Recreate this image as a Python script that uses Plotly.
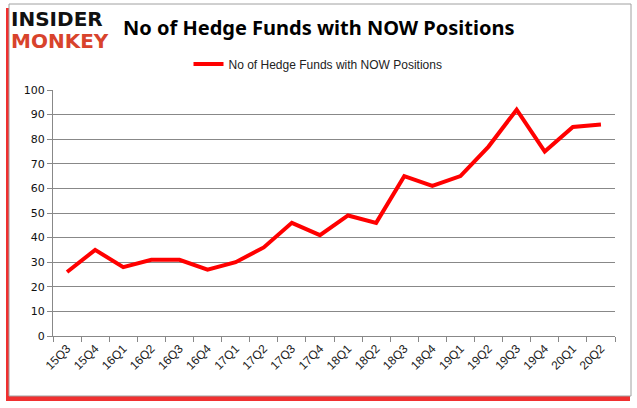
import plotly.graph_objects as go

quarters = ["15Q3", "15Q4", "16Q1", "16Q2", "16Q3", "16Q4", "17Q1", "17Q2", "17Q3", "17Q4",
            "18Q1", "18Q2", "18Q3", "18Q4", "19Q1", "19Q2", "19Q3", "19Q4", "20Q1", "20Q2"]
funds = [26, 35, 28, 31, 31, 27, 30, 36, 46, 41, 49, 46, 65, 61, 65, 77, 92, 75, 85, 86]
series_name = "No of Hedge Funds with NOW Positions"
title_text = "No of Hedge Funds with NOW Positions"

W, H = 637, 408
L, R, T, B = 53, 615, 90, 336
pw, ph = R - L, B - T

def px(x):
    return (x - L) / pw

def py(y):
    return (B - y) / ph

fig = go.Figure()
fig.add_trace(go.Scatter(
    x=quarters, y=funds, mode="lines", name=series_name,
    line=dict(color="#ff0000", width=4),
))

shapes = [
    # red shadow
    dict(type="rect", xref="paper", yref="paper", x0=px(6), x1=px(630), y0=py(401), y1=py(8),
         fillcolor="#f03030", line=dict(width=0), layer="below"),
    # white frame
    dict(type="rect", xref="paper", yref="paper", x0=px(9), x1=px(631), y0=py(396), y1=py(4),
         fillcolor="white", line=dict(color="#a0a0a0", width=1), layer="below"),
]

annotations = [
    dict(text="<b>INSIDER</b>", x=px(9), y=py(19), xref="paper", yref="paper", xanchor="left",
         yanchor="middle", showarrow=False, font=dict(family="DejaVu Sans", size=20, color="#111111")),
    dict(text="<b>MONKEY</b>", x=px(9), y=py(41), xref="paper", yref="paper", xanchor="left",
         yanchor="middle", showarrow=False, font=dict(family="DejaVu Sans", size=20, color="#d8432c")),
    dict(text="<b>" + title_text + "</b>", x=px(121), y=py(27), xref="paper", yref="paper",
         xanchor="left", yanchor="middle", showarrow=False,
         font=dict(family="Noto Sans", size=20, color="#000000")),
]

fig.update_layout(
    width=W, height=H,
    margin=dict(l=L, r=W - R, t=T, b=H - B, autoexpand=False),
    paper_bgcolor="white", plot_bgcolor="white",
    shapes=shapes, annotations=annotations,
    showlegend=True,
    legend=dict(orientation="h", x=px(318), xanchor="center", y=py(64), yanchor="middle",
                font=dict(family="Liberation Sans", size=12, color="#222222"),
                bgcolor="rgba(0,0,0,0)", itemwidth=30),
    xaxis=dict(
        type="category", showgrid=False, showline=True, linecolor="#888888", linewidth=1,
        ticks="outside", tickson="boundaries", ticklen=5, tickcolor="#888888",
        tickangle=-45, tickfont=dict(family="Liberation Sans", size=12, color="#222222"),
        range=[-0.5, len(quarters) - 0.5], automargin=False,
    ),
    yaxis=dict(
        range=[0, 100], dtick=10, showgrid=True, gridcolor="#888888", gridwidth=1,
        showline=True, linecolor="#888888", linewidth=1, ticks="outside", ticklen=5,
        tickcolor="#888888", zeroline=False, automargin=False,
        tickfont=dict(family="DejaVu Sans", size=11, color="#111111"),
    ),
)

fig.write_html("out.html", config={"displayModeBar": False},
               post_script="document.body.style.margin='0';document.body.style.overflow='hidden';")
